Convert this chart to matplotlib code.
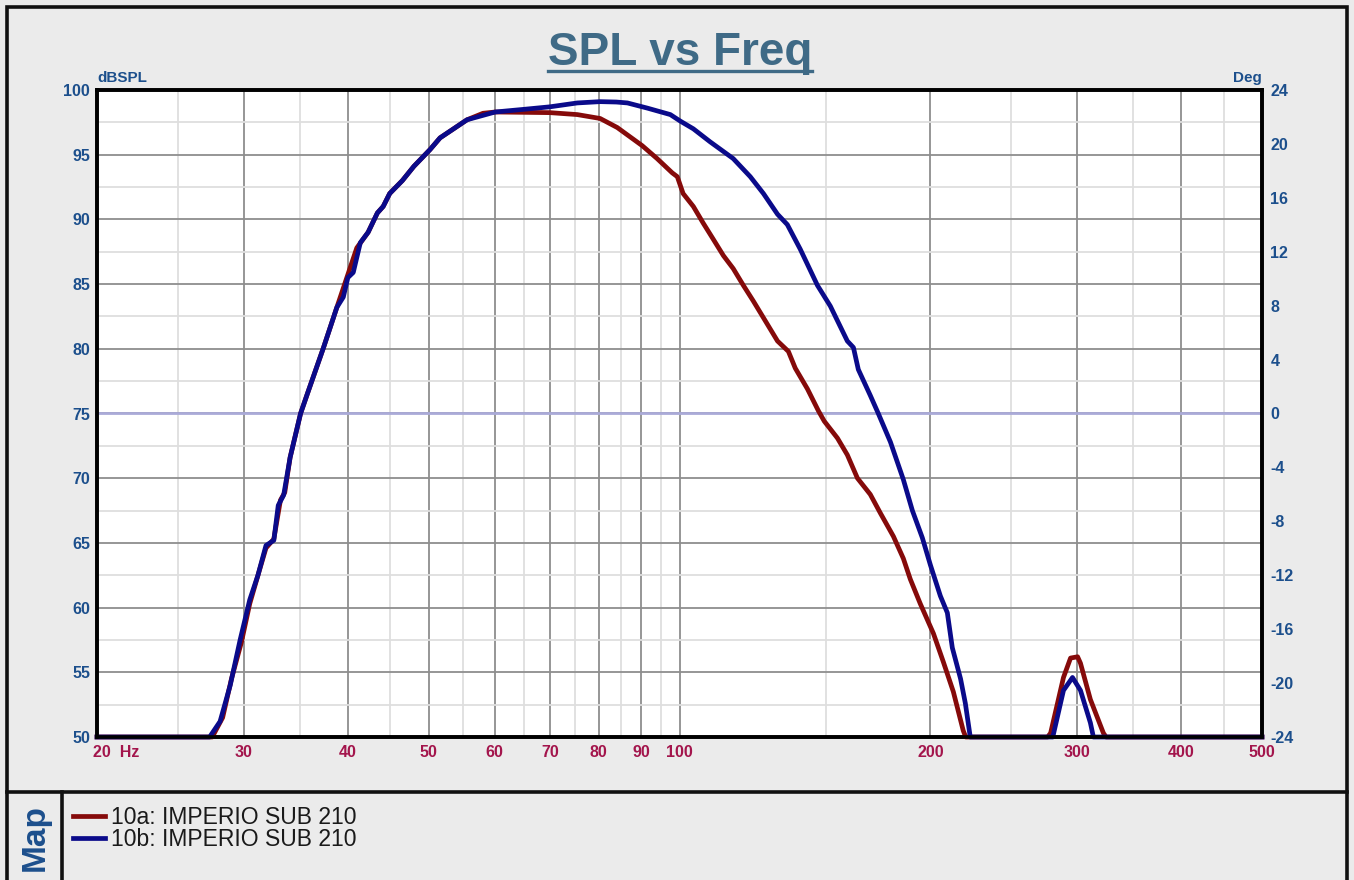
import matplotlib
matplotlib.use("Agg")
import matplotlib.pyplot as plt
from matplotlib.lines import Line2D
from matplotlib.patches import Rectangle
from matplotlib.ticker import FixedLocator, MultipleLocator
import matplotlib.transforms as mtransforms

plt.rcParams['font.family'] = ['Liberation Sans', 'DejaVu Sans']
plt.rcParams['axes.unicode_minus'] = False

# measured SPL, trace 10a
freq_a = [20, 27.5, 28.3, 29.0, 29.8, 30.5, 31.3, 31.9, 32.6, 33.2, 33.6, 34.1, 35.1, 35.8,
          37.4, 38.8, 41.0, 42.3, 43.4, 44.1, 44.9, 46.5, 48.0, 50.2, 51.6, 55.6, 58.1,
          60.1, 69.9, 75.4, 80.3, 84.2, 90.2, 94.0, 98.0, 99.4, 101.0, 103.9, 106.8,
          109.7, 112.9, 116.0, 119.3, 122.6, 126.1, 131.1, 135.1, 137.7, 142.4, 146.8,
          149.2, 154.7, 159.0, 163.5, 169.4, 174.2, 180.6, 185.6, 189.2, 194.5, 201.7,
          207.3, 213.1, 219.0, 220.5, 276.5, 278.8, 288.9, 294.6, 300.4, 302.8, 311.2,
          322.6, 325.0, 500]
spl_a = [50, 50, 51.5, 54.5, 57.3, 60.3, 62.8, 64.6, 65.3, 68.3, 68.9, 71.6, 75.0, 76.6,
         80.1, 83.2, 87.8, 89.0, 90.5, 91.0, 92.0, 93.0, 94.1, 95.4, 96.3, 97.7, 98.2,
         98.3, 98.25, 98.1, 97.8, 97.1, 95.7, 94.7, 93.6, 93.3, 92.0, 91.0, 89.7,
         88.5, 87.2, 86.2, 84.9, 83.7, 82.4, 80.6, 79.8, 78.5, 76.9, 75.2,
         74.4, 73.1, 71.8, 70.0, 68.75, 67.3, 65.5, 63.8, 62.2, 60.3, 58.0,
         55.8, 53.5, 50.5, 50, 50, 50.3, 54.6, 56.1, 56.2, 55.7, 52.9,
         50.3, 50, 50]

# measured SPL, trace 10b
freq_b = [20, 27.3, 28.1, 28.9, 29.7, 30.5, 31.2, 31.9, 32.6, 33.0, 33.5, 34.1, 35.1, 35.8,
          37.4, 38.8, 39.5, 40.0, 40.6, 41.4, 42.3, 43.4, 44.1, 44.9, 46.5, 48.0, 50.2,
          51.6, 55.6, 60.1, 64.9, 69.9, 75.4, 80.3, 84.0, 86.6, 91.5, 97.5, 100.2, 103.9,
          108.8, 116.0, 121.6, 126.1, 131.1, 134.7, 139.6, 146.4, 151.7, 159.0, 161.7,
          163.9, 169.4, 173.2, 179.1, 185.6, 190.3, 195.6, 200, 205.6, 209.6, 212.5,
          217.4, 220.3, 223.3, 280.5, 288.9, 296.2, 302.8, 311.2, 313.8, 500]
spl_b = [50, 50, 51.2, 54.0, 57.5, 60.6, 62.5, 64.8, 65.2, 67.9, 68.7, 71.6, 75.0, 76.6,
         80.1, 83.2, 84.0, 85.5, 85.9, 88.2, 89.0, 90.5, 91.0, 92.0, 93.0, 94.1, 95.4,
         96.3, 97.7, 98.3, 98.5, 98.7, 99.0, 99.1, 99.07, 99.0, 98.6, 98.1, 97.6, 97.0,
         96.0, 94.7, 93.3, 92.0, 90.4, 89.6, 87.7, 84.9, 83.3, 80.6, 80.1,
         78.4, 76.4, 75.0, 72.8, 69.9, 67.5, 65.4, 63.3, 60.9, 59.6, 56.9,
         54.5, 52.6, 50, 50, 53.6, 54.6, 53.6, 51.1, 50, 50]

labels = ["10a: IMPERIO SUB 210", "10b: IMPERIO SUB 210"]

x_major = [20, 30, 40, 50, 60, 70, 80, 90, 100, 200, 300, 400, 500]
x_major_labels = ["20  Hz", "30", "40", "50", "60", "70", "80", "90", "100",
                  "200", "300", "400", "500"]
x_minor = [25, 35, 45, 55, 65, 75, 85, 95, 150, 250, 350, 450]
deg_ticks = list(range(-24, 25, 4))

BG = "#ebebeb"
BLUE_TXT = "#1c4f8c"
RED_TXT = "#a3154c"
RED = "#850a0a"
NAVY = "#0a0a8a"
TICK_FS = 11.5

fig = plt.figure(figsize=(13.54, 8.8), dpi=100, facecolor=BG)
ax = fig.add_axes([97 / 1354, 1 - 737 / 880, 1165 / 1354, 647 / 880])
ax.set_facecolor("white")

ax.set_xscale("log")
ax.set_xlim(20, 500)
ax.set_ylim(50, 100)
ax.xaxis.set_major_locator(FixedLocator(x_major))
ax.xaxis.set_minor_locator(FixedLocator(x_minor))
ax.set_xticks(x_major)
ax.set_xticklabels(x_major_labels)
ax.xaxis.set_minor_formatter(plt.NullFormatter())
ax.yaxis.set_major_locator(MultipleLocator(5))
ax.yaxis.set_minor_locator(MultipleLocator(2.5))

ax.grid(which="major", color="#8e8e8e", lw=1.3, zorder=0)
ax.grid(which="minor", color="#dedede", lw=1.3, zorder=0)
ax.set_axisbelow(True)

ax.tick_params(which="both", length=0)
ax.tick_params(axis="x", colors=RED_TXT, labelsize=TICK_FS, pad=6)
ax.tick_params(axis="y", colors=BLUE_TXT, labelsize=TICK_FS, pad=5)
for t in ax.get_xticklabels() + ax.get_yticklabels():
    t.set_fontweight("bold")

# first label carries the unit, so anchor it on the left
first = ax.get_xticklabels()[0]
first.set_horizontalalignment("left")
first.set_transform(first.get_transform() +
                    mtransforms.ScaledTranslation(-4 / 100, 0, fig.dpi_scale_trans))

for sp in ax.spines.values():
    sp.set_linewidth(2.6)
    sp.set_color("black")

# phase reference line (0 deg)
ax.axhline(75, color="#aaaad8", lw=2, zorder=1)

line_a, = ax.plot(freq_a, spl_a, color=RED, lw=3.4, zorder=3, clip_on=False,
                  solid_joinstyle="round")
line_b, = ax.plot(freq_b, spl_b, color=NAVY, lw=3.4, zorder=4, clip_on=False,
                  solid_joinstyle="round")

ax2 = ax.twinx()
ax2.set_ylim(-24, 24)
ax2.set_yticks(deg_ticks)
ax2.tick_params(length=0, colors=BLUE_TXT, labelsize=TICK_FS, pad=6)
for t in ax2.get_yticklabels():
    t.set_fontweight("bold")
for sp in ax2.spines.values():
    sp.set_linewidth(2.6)

ax.text(0, 1.008, "dBSPL", transform=ax.transAxes, ha="left", va="bottom",
        color=BLUE_TXT, fontsize=11, fontweight="bold")
ax.text(1, 1.008, "Deg", transform=ax.transAxes, ha="right", va="bottom",
        color=BLUE_TXT, fontsize=11, fontweight="bold")

title = fig.text(680 / 1354, 1 - 65 / 880, "SPL vs Freq", ha="center", va="baseline",
                 fontsize=33, fontweight="bold", color="#3f6a86")

# outer frame and legend panel
fig.add_artist(Rectangle((7 / 1354, -0.05), 1340 / 1354, 1.05 - 7 / 880,
                         transform=fig.transFigure, fill=False, lw=2.6,
                         edgecolor="#111111"))
fig.add_artist(Line2D([7 / 1354, 1347 / 1354], [1 - 792 / 880] * 2,
                      transform=fig.transFigure, color="#111111", lw=2.6))
fig.add_artist(Line2D([62 / 1354] * 2, [0, 1 - 792 / 880],
                      transform=fig.transFigure, color="#111111", lw=2.6))
fig.text(35 / 1354, 1 - 838 / 880, "Map", rotation=90, ha="center", va="center",
         fontsize=24, fontweight="bold", color=BLUE_TXT)

fig.legend([line_a, line_b], labels, loc="upper left",
           bbox_to_anchor=(73 / 1354, 1 - 806 / 880), frameon=False,
           fontsize=16.5, handlelength=1.4, handletextpad=0.25,
           labelspacing=-0.05, borderpad=0, borderaxespad=0,
           labelcolor="#1a1a1a")

# underline the title
fig.canvas.draw()
bb = title.get_window_extent(fig.canvas.get_renderer())
x0, x1 = bb.x0 / fig.bbox.width, bb.x1 / fig.bbox.width
uy = 1 - 71.5 / 880
fig.add_artist(Line2D([x0, x1], [uy, uy], transform=fig.transFigure,
                      color="#3f6a86", lw=2.4))

fig.savefig("out.png", dpi=100, facecolor=BG)
